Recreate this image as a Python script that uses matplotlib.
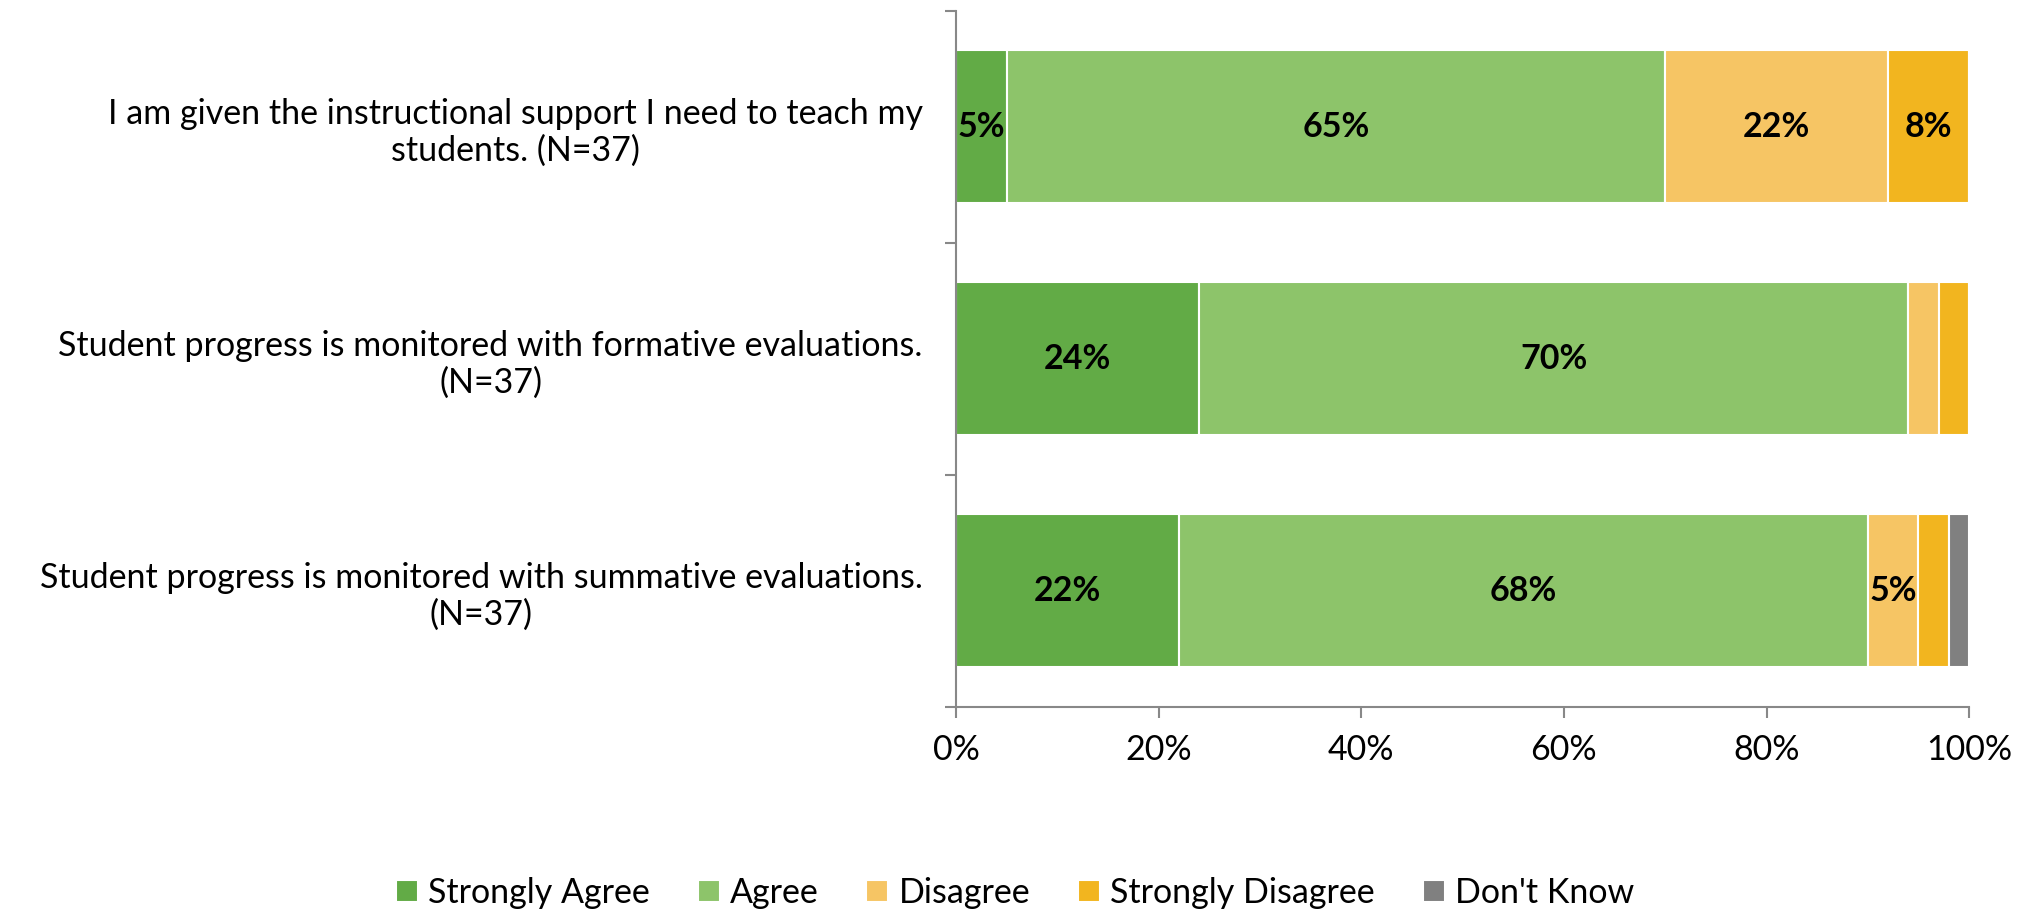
import numpy as np
import matplotlib.pyplot as plt
from matplotlib.ticker import FixedLocator, PercentFormatter

plt.rcParams['font.family'] = ['Lato', 'DejaVu Sans']

# Survey data (percent of respondents)
questions = [
    'I am given the instructional support I need to teach my\nstudents. (N=37)',
    'Student progress is monitored with formative evaluations.\n(N=37)',
    'Student progress is monitored with summative evaluations.\n(N=37)',
]
categories = ['Strongly Agree', 'Agree', 'Disagree', 'Strongly Disagree', "Don't Know"]
strongly_agree = [5, 24, 22]
agree = [65, 70, 68]
disagree = [22, 3, 5]
strongly_disagree = [8, 3, 3]
dont_know = [0, 0, 2]

colors = ['#62AB46', '#8DC46A', '#F6C564', '#F2B51F', '#808080']
series = [strongly_agree, agree, disagree, strongly_disagree, dont_know]

fs = 24.5

fig = plt.figure(figsize=(20.3, 9.13), dpi=100)
ax = fig.add_axes([0.471, 0.226, 0.499, 0.762])

y = np.arange(len(questions))
left = np.zeros(len(questions))
for name, vals, col in zip(categories, series, colors):
    vals = np.array(vals, dtype=float)
    bars = ax.barh(y, vals, left=left, height=0.66, color=col,
                   edgecolor='white', linewidth=1.5, label=name)
    for b, v in zip(bars, vals):
        if v >= 5:
            ax.text(b.get_x() + b.get_width() / 2, b.get_y() + b.get_height() / 2,
                    f'{int(v)}%', ha='center', va='center',
                    fontsize=fs, fontweight='bold', color='black')
    left += vals

ax.set_xlim(0, 100)
ax.set_ylim(2.5, -0.5)
ax.xaxis.set_major_locator(FixedLocator([0, 20, 40, 60, 80, 100]))
ax.xaxis.set_major_formatter(PercentFormatter(decimals=0))

ax.set_yticks(y)
ax.set_yticklabels(questions, multialignment='center')
ax.yaxis.set_minor_locator(FixedLocator([-0.5, 0.5, 1.5, 2.5]))
ax.tick_params(axis='y', which='major', length=0, pad=24, labelsize=fs)
ax.tick_params(axis='y', which='minor', length=8, color='#888888', width=1.5)
ax.tick_params(axis='x', length=8, color='#888888', width=1.5, labelsize=fs, pad=12)

for s in ['top', 'right']:
    ax.spines[s].set_visible(False)
for s in ['left', 'bottom']:
    ax.spines[s].set_color('#888888')
    ax.spines[s].set_linewidth(1.5)

fig.legend(loc='center', bbox_to_anchor=(0.5, 0.022), ncol=5, frameon=False,
           fontsize=fs, handlelength=0.65, handleheight=0.65, handletextpad=0.3,
           columnspacing=1.4)

fig.savefig('out.png', dpi=100)
